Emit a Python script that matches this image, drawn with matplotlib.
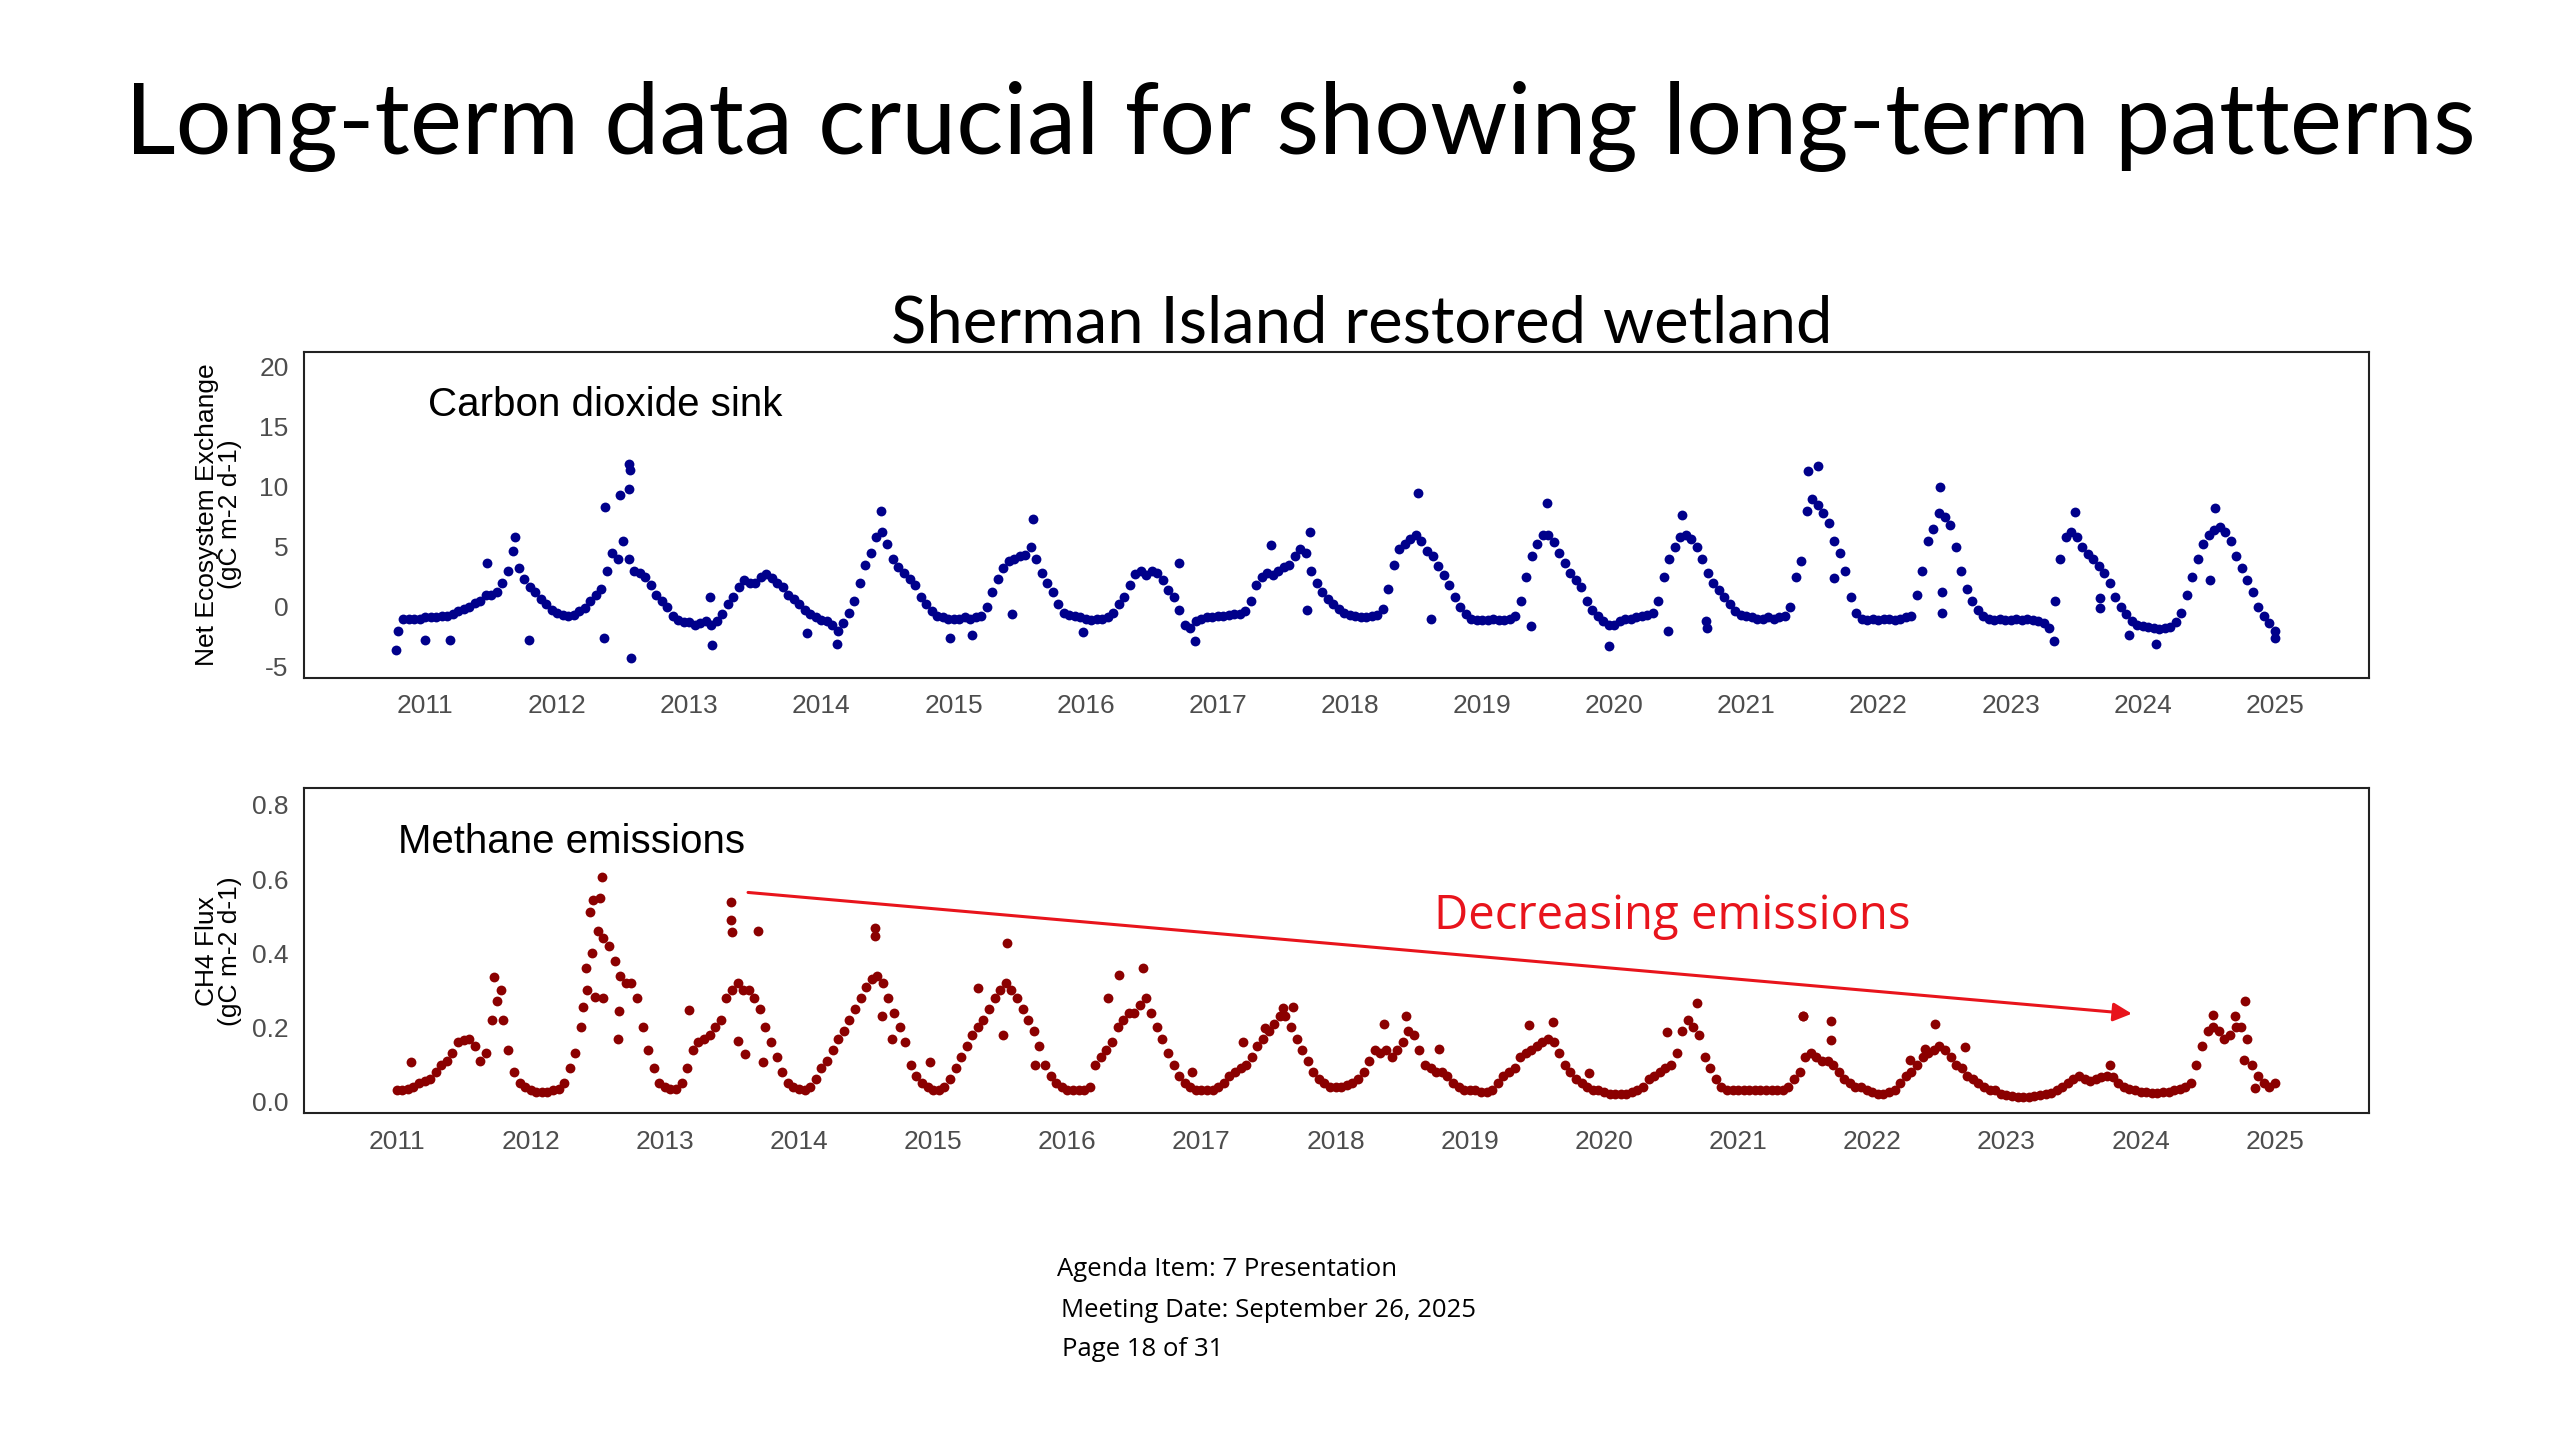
import numpy as np
import matplotlib
matplotlib.use('Agg')
import matplotlib.pyplot as plt

# daily fluxes, one value per half month (24 per year)
# Net ecosystem exchange, gC m-2 d-1 (top panel), first value late 2010
nee_start = 2010 + 19 / 24
nee = [
    -2.0, -1.0, -1.0, -1.0, -1.0,                                                      # 2010
    -0.9, -0.9, -0.9, -0.8, -0.8, -0.6, -0.4, -0.2, 0.0, 0.3, 0.5, 1.0,
    1.0, 1.2, 2.0, 3.0, 4.6, 3.2, 2.3, 1.6, 1.2, 0.6, 0.2, -0.3,                       # 2011
    -0.5, -0.7, -0.8, -0.7, -0.4, -0.1, 0.5, 1.0, 1.5, 3.0, 4.5, 4.0,
    5.5, 4.0, 3.0, 2.8, 2.5, 1.8, 1.0, 0.5, 0.0, -0.8, -1.1, -1.3,                     # 2012
    -1.3, -1.5, -1.4, -1.2, -1.5, -1.2, -0.6, 0.2, 0.8, 1.6, 2.2, 2.0,
    2.0, 2.5, 2.7, 2.4, 2.0, 1.6, 1.0, 0.6, 0.2, -0.3, -0.6, -0.9,                     # 2013
    -1.1, -1.2, -1.5, -2.0, -1.4, -0.5, 0.5, 2.0, 3.5, 4.5, 5.8, 6.2,
    5.2, 4.0, 3.3, 2.8, 2.3, 1.8, 0.8, 0.2, -0.4, -0.8, -0.9, -1.0,                    # 2014
    -1.0, -1.0, -0.9, -1.0, -0.9, -0.8, 0.0, 1.2, 2.3, 3.2, 3.8, 4.0,
    4.2, 4.3, 5.0, 4.0, 2.8, 2.0, 1.2, 0.2, -0.5, -0.7, -0.8, -0.9,                    # 2015
    -1.0, -1.1, -1.0, -1.0, -0.9, -0.5, 0.2, 0.8, 1.8, 2.7, 3.0, 2.6,
    3.0, 2.8, 2.2, 1.4, 0.8, -0.3, -1.5, -1.8, -1.2, -1.0, -0.9, -0.9,                 # 2016
    -0.8, -0.8, -0.7, -0.6, -0.6, -0.4, 0.5, 1.8, 2.5, 2.8, 2.6, 3.0,
    3.3, 3.5, 4.2, 4.8, 4.5, 3.0, 2.0, 1.2, 0.6, 0.2, -0.2, -0.5,                      # 2017
    -0.7, -0.8, -0.9, -0.9, -0.8, -0.7, -0.2, 1.5, 3.5, 4.8, 5.2, 5.6,
    6.0, 5.5, 4.6, 4.2, 3.4, 2.6, 1.8, 0.8, 0.0, -0.6, -1.0, -1.1,                     # 2018
    -1.1, -1.1, -1.0, -1.1, -1.1, -1.0, -0.8, 0.5, 2.5, 4.2, 5.2, 6.0,
    6.0, 5.4, 4.5, 3.6, 2.8, 2.2, 1.6, 0.5, -0.3, -0.8, -1.2, -1.5,                    # 2019
    -1.5, -1.2, -1.0, -1.0, -0.9, -0.8, -0.7, -0.5, 0.5, 2.5, 4.0, 5.0,
    5.8, 6.0, 5.6, 5.0, 4.0, 2.8, 2.0, 1.4, 0.8, 0.2, -0.4, -0.7,                      # 2020
    -0.8, -0.9, -1.0, -1.0, -0.9, -1.0, -0.9, -0.8, 0.0, 2.5, 3.8, 8.0,
    9.0, 8.5, 7.8, 7.0, 5.5, 4.5, 3.0, 0.8, -0.5, -1.0, -1.1, -1.0,                    # 2021
    -1.1, -1.0, -1.0, -1.1, -1.0, -0.9, -0.8, 1.0, 3.0, 5.5, 6.5, 7.8,
    7.5, 6.8, 5.0, 3.0, 1.5, 0.5, -0.3, -0.8, -1.0, -1.1, -1.0, -1.1,                  # 2022
    -1.1, -1.0, -1.1, -1.0, -1.1, -1.2, -1.4, -1.8, 0.5, 4.0, 5.8, 6.2,
    5.8, 5.0, 4.4, 4.0, 3.4, 2.8, 2.0, 0.8, 0.0, -0.6, -1.2, -1.5,                     # 2023
    -1.6, -1.7, -1.8, -1.9, -1.8, -1.7, -1.3, -0.5, 1.0, 2.5, 4.0, 5.2,
    6.0, 6.4, 6.6, 6.2, 5.5, 4.2, 3.2, 2.2, 1.2, 0.0, -0.8, -1.4,                      # 2024
    -2.0,                                                                              # 2025
]
# scattered single days standing out of the band
nee_out_t = [2010.78, 2011.00, 2011.19, 2011.47, 2011.68, 2011.785, 2012.36, 2012.357,
             2012.476, 2012.544, 2012.545, 2012.55, 2012.557, 2013.16, 2013.17, 2013.89,
             2014.12, 2014.45, 2014.974, 2015.138, 2015.446, 2015.605, 2015.979, 2016.708,
             2016.824, 2017.402, 2017.675, 2017.695, 2018.512, 2018.613, 2019.373, 2019.49,
             2019.958, 2020.407, 2020.513, 2020.697, 2020.70, 2021.465, 2021.54, 2021.66,
             2022.469, 2022.48, 2022.48, 2023.332, 2023.49, 2023.68, 2023.68, 2023.894,
             2024.104, 2024.508, 2024.55, 2025.005]
nee_out_v = [-3.6, -2.8, -2.8, 3.6, 5.8, -2.8, 8.3, -2.6,
             9.3, 9.8, 11.9, 11.4, -4.3, 0.8, -3.2, -2.2,
             -3.1, 8.0, -2.6, -2.4, -0.6, 7.3, -2.1, 3.6,
             -2.9, 5.1, -0.3, 6.2, 9.5, -1.0, -1.6, 8.6,
             -3.3, -2.0, 7.6, -1.2, -1.8, 11.3, 11.7, 2.4,
             10.0, -0.5, 1.2, -2.9, 7.9, -0.1, 0.7, -2.4,
             -3.1, 2.2, 8.2, -2.6]

# CH4 flux, gC m-2 d-1 (bottom panel), first value Jan 2011
ch4_start = 2011.0
ch4 = [
    0.03, 0.03, 0.035, 0.04, 0.05, 0.055, 0.06, 0.08, 0.10, 0.11, 0.13, 0.16,
    0.166, 0.17, 0.15, 0.11, 0.13, 0.22, 0.27, 0.22, 0.14, 0.08, 0.05, 0.04,           # 2011
    0.03, 0.025, 0.025, 0.025, 0.03, 0.035, 0.05, 0.09, 0.13, 0.2, 0.3, 0.4,
    0.46, 0.44, 0.42, 0.38, 0.34, 0.32, 0.32, 0.28, 0.2, 0.14, 0.09, 0.05,             # 2012
    0.04, 0.035, 0.035, 0.05, 0.09, 0.14, 0.16, 0.17, 0.18, 0.2, 0.22, 0.28,
    0.3, 0.32, 0.3, 0.3, 0.28, 0.25, 0.2, 0.16, 0.12, 0.08, 0.05, 0.04,                # 2013
    0.035, 0.03, 0.04, 0.06, 0.09, 0.11, 0.14, 0.17, 0.19, 0.22, 0.25, 0.28,
    0.31, 0.33, 0.34, 0.32, 0.28, 0.24, 0.2, 0.16, 0.1, 0.07, 0.05, 0.04,              # 2014
    0.03, 0.03, 0.04, 0.06, 0.09, 0.12, 0.15, 0.18, 0.2, 0.22, 0.25, 0.28,
    0.3, 0.32, 0.3, 0.28, 0.25, 0.22, 0.19, 0.15, 0.1, 0.07, 0.05, 0.04,               # 2015
    0.03, 0.03, 0.03, 0.03, 0.04, 0.1, 0.12, 0.14, 0.16, 0.2, 0.22, 0.24,
    0.24, 0.26, 0.28, 0.24, 0.2, 0.17, 0.13, 0.1, 0.07, 0.05, 0.04, 0.03,              # 2016
    0.03, 0.03, 0.03, 0.04, 0.05, 0.07, 0.08, 0.09, 0.1, 0.12, 0.15, 0.17,
    0.19, 0.21, 0.23, 0.23, 0.2, 0.17, 0.14, 0.11, 0.08, 0.06, 0.05, 0.04,             # 2017
    0.04, 0.04, 0.045, 0.05, 0.06, 0.08, 0.11, 0.14, 0.13, 0.14, 0.12, 0.14,
    0.16, 0.19, 0.18, 0.14, 0.1, 0.09, 0.08, 0.08, 0.07, 0.05, 0.04, 0.03,             # 2018
    0.03, 0.03, 0.025, 0.025, 0.03, 0.05, 0.07, 0.08, 0.09, 0.12, 0.13, 0.14,
    0.15, 0.16, 0.17, 0.16, 0.13, 0.1, 0.08, 0.06, 0.05, 0.04, 0.03, 0.03,             # 2019
    0.025, 0.02, 0.02, 0.02, 0.02, 0.025, 0.03, 0.04, 0.06, 0.07, 0.08, 0.09,
    0.1, 0.13, 0.19, 0.22, 0.2, 0.18, 0.12, 0.09, 0.06, 0.04, 0.03, 0.03,              # 2020
    0.03, 0.03, 0.03, 0.03, 0.03, 0.03, 0.03, 0.03, 0.03, 0.04, 0.06, 0.08,
    0.12, 0.13, 0.12, 0.11, 0.11, 0.1, 0.08, 0.06, 0.05, 0.04, 0.04, 0.03,             # 2021
    0.025, 0.02, 0.02, 0.025, 0.03, 0.05, 0.07, 0.08, 0.1, 0.12, 0.13, 0.14,
    0.15, 0.14, 0.12, 0.1, 0.09, 0.07, 0.06, 0.05, 0.04, 0.03, 0.03, 0.02,             # 2022
    0.018, 0.015, 0.013, 0.013, 0.013, 0.015, 0.018, 0.02, 0.022, 0.03, 0.04, 0.05,
    0.06, 0.07, 0.06, 0.055, 0.06, 0.065, 0.07, 0.065, 0.05, 0.04, 0.035, 0.03,        # 2023
    0.025, 0.025, 0.022, 0.022, 0.025, 0.025, 0.03, 0.035, 0.04, 0.05, 0.1, 0.15,
    0.19, 0.2, 0.19, 0.17, 0.18, 0.2, 0.2, 0.17, 0.1, 0.07, 0.05, 0.04,                # 2024
    0.05,                                                                              # 2025
]
ch4_out_t = [2011.11, 2011.73, 2011.78, 2012.39, 2012.41, 2012.44, 2012.464, 2012.476,
             2012.514, 2012.534, 2012.54, 2012.65, 2012.66, 2013.18, 2013.496, 2013.496,
             2013.50, 2013.545, 2013.60, 2013.695, 2013.73, 2014.57, 2014.57, 2014.62,
             2014.694, 2014.975, 2015.335, 2015.52, 2015.547, 2015.758, 2016.305, 2016.387,
             2016.566, 2016.931, 2017.31, 2017.473, 2017.61, 2017.685, 2018.36, 2018.525,
             2018.77, 2019.44, 2019.623, 2019.892, 2020.47, 2020.697, 2021.483, 2021.487,
             2021.69, 2021.69, 2022.282, 2022.394, 2022.469, 2022.688, 2023.774, 2024.537,
             2024.705, 2024.768, 2024.78, 2024.855]
ch4_out_v = [0.108, 0.337, 0.30, 0.256, 0.36, 0.512, 0.544, 0.283,
             0.548, 0.605, 0.28, 0.17, 0.243, 0.247, 0.539, 0.49,
             0.458, 0.164, 0.129, 0.46, 0.108, 0.467, 0.447, 0.23,
             0.17, 0.108, 0.306, 0.18, 0.427, 0.10, 0.28, 0.342,
             0.36, 0.081, 0.162, 0.198, 0.252, 0.256, 0.21, 0.232,
             0.142, 0.207, 0.214, 0.078, 0.189, 0.265, 0.231, 0.23,
             0.216, 0.166, 0.112, 0.141, 0.21, 0.147, 0.099, 0.234,
             0.231, 0.112, 0.27, 0.036]

years = list(range(2011, 2026))
nee_ticks = [-5, 0, 5, 10, 15, 20]
ch4_ticks = [0.0, 0.2, 0.4, 0.6, 0.8]

navy = '#00008B'
darkred = '#8B0000'
red = '#E8141C'
tick_grey = '#4D4D4D'
gg_font = 'Liberation Sans'
dot = 50

nee_t = nee_start + np.arange(len(nee)) / 24
ch4_t = ch4_start + np.arange(len(ch4)) / 24

fig = plt.figure(figsize=(25.6, 14.4), dpi=100)
fig.patch.set_facecolor('white')

ax1 = fig.add_axes([0.11875, 0.5294, 0.8065, 0.2264])
ax2 = fig.add_axes([0.11875, 0.2269, 0.8065, 0.2257])

ax1.scatter(nee_t, nee, s=dot, color=navy, linewidths=0, zorder=3)
ax1.scatter(nee_out_t, nee_out_v, s=dot, color=navy, linewidths=0, zorder=3)
ax2.scatter(ch4_t, ch4, s=dot, color=darkred, linewidths=0, zorder=3)
ax2.scatter(ch4_out_t, ch4_out_v, s=dot, color=darkred, linewidths=0, zorder=3)

ax1.set_xlim(2010.084, 2025.71)
ax1.set_ylim(-5.92, 21.25)
ax1.set_yticks(nee_ticks)
ax1.set_yticklabels([str(v) for v in nee_ticks])

ax2.set_xlim(2010.31, 2025.70)
ax2.set_ylim(-0.0315, 0.845)
ax2.set_yticks(ch4_ticks)
ax2.set_yticklabels(['%.1f' % v for v in ch4_ticks])

for ax in (ax1, ax2):
    ax.set_xticks(years)
    ax.set_xticklabels([str(y) for y in years])
    ax.tick_params(axis='both', length=0, labelsize=19, labelcolor=tick_grey)
    ax.tick_params(axis='y', pad=11)
    ax.tick_params(axis='x', pad=12)
    for lab in ax.get_xticklabels() + ax.get_yticklabels():
        lab.set_fontfamily(gg_font)
    for sp in ax.spines.values():
        sp.set_color('#222222')
        sp.set_linewidth(1.5)

ax1.set_ylabel('Net Ecosystem Exchange\n(gC m-2 d-1)', fontsize=19, family=gg_font,
               linespacing=0.95)
ax1.yaxis.set_label_coords(-0.030, 0.5)
ax2.set_ylabel('CH4 Flux\n(gC m-2 d-1)', fontsize=19, family=gg_font, linespacing=0.95)
ax2.yaxis.set_label_coords(-0.030, 0.5)

fig.text(0.167, 0.719, 'Carbon dioxide sink', fontsize=29, family=gg_font, va='center')
fig.text(0.1555, 0.415, 'Methane emissions', fontsize=29, family=gg_font, va='center')

# trend arrow and note on the methane panel
ax2.annotate('', xy=(2023.935, 0.237), xytext=(2013.62, 0.564),
             arrowprops=dict(arrowstyle='-|>', color=red, lw=2.2, mutation_scale=28,
                             shrinkA=0, shrinkB=0), annotation_clip=False)
fig.text(0.560, 0.364, 'Decreasing emissions', fontsize=34, family='Open Sans',
         color=red, va='center', ha='left')

fig.text(0.508, 0.912, 'Long-term data crucial for showing long-term patterns',
         fontsize=71, family='Lato', ha='center', va='center')
fig.text(0.532, 0.775, 'Sherman Island restored wetland', fontsize=47, family='Lato',
         ha='center', va='center')

fig.text(0.413, 0.1187, 'Agenda Item: 7 Presentation', fontsize=18.5, family='Open Sans',
         va='center')
fig.text(0.4145, 0.0896, 'Meeting Date: September 26, 2025', fontsize=18.5,
         family='Open Sans', va='center')
fig.text(0.415, 0.0625, 'Page 18 of 31', fontsize=18.5, family='Open Sans', va='center')

fig.savefig('out.png', dpi=100, facecolor='white')
